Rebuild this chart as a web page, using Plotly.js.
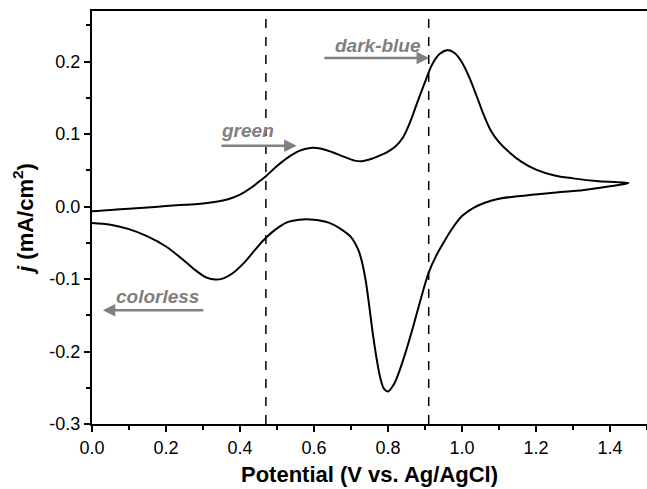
<!DOCTYPE html>
<html>
<head>
<meta charset="utf-8">
<script src="https://cdn.plot.ly/plotly-3.0.1.min.js"></script>
<style>html,body{margin:0;padding:0;background:#fff;}#chart{width:647px;height:489px;}</style>
</head>
<body>
<div id="chart"></div>
<script>
// Forward (anodic) sweep
const potentialFwd = [0.00,0.05,0.10,0.15,0.20,0.25,0.30,0.34,0.37,0.40,0.43,0.45,0.47,0.50,0.53,0.56,0.59,0.62,0.65,0.68,0.71,0.73,0.75,0.78,0.80,0.82,0.84,0.86,0.88,0.90,0.92,0.94,0.96,0.98,1.00,1.02,1.04,1.06,1.08,1.10,1.13,1.16,1.20,1.25,1.30,1.37,1.45];
const currentFwd   = [-0.0064,-0.0045,-0.0030,-0.0012,0.0008,0.0025,0.0042,0.0070,0.0105,0.0165,0.026,0.034,0.042,0.056,0.068,0.077,0.081,0.080,0.075,0.069,0.0635,0.0628,0.065,0.071,0.076,0.083,0.095,0.117,0.145,0.172,0.197,0.211,0.216,0.212,0.199,0.178,0.152,0.125,0.103,0.089,0.074,0.062,0.051,0.043,0.039,0.035,0.0327];
// Reverse (cathodic) sweep
const potentialRev = [1.45,1.40,1.33,1.24,1.15,1.10,1.06,1.03,1.00,0.97,0.95,0.93,0.91,0.89,0.87,0.85,0.83,0.815,0.80,0.79,0.78,0.77,0.76,0.75,0.74,0.73,0.72,0.70,0.67,0.64,0.60,0.56,0.53,0.50,0.47,0.44,0.41,0.38,0.355,0.333,0.31,0.28,0.25,0.20,0.15,0.10,0.05,0.00];
const currentRev   = [0.0327,0.028,0.023,0.0189,0.0142,0.011,0.005,-0.002,-0.013,-0.033,-0.050,-0.068,-0.091,-0.125,-0.162,-0.197,-0.228,-0.246,-0.255,-0.252,-0.238,-0.212,-0.179,-0.14,-0.103,-0.077,-0.060,-0.042,-0.030,-0.022,-0.018,-0.018,-0.021,-0.030,-0.043,-0.060,-0.078,-0.092,-0.099,-0.1007,-0.098,-0.088,-0.075,-0.055,-0.041,-0.031,-0.025,-0.0225];

const markerPotentials = [0.47, 0.91];

const xTickVals = [0.0,0.2,0.4,0.6,0.8,1.0,1.2,1.4];
const xTickText = ["0.0","0.2","0.4","0.6","0.8","1.0","1.2","1.4"];
const yTickVals = [-0.3,-0.2,-0.1,0.0,0.1,0.2];
const yTickText = ["-0.3","-0.2","-0.1","0.0","0.1","0.2"];

const colorLabels = ["green","dark-blue","colorless"];
const labelX = [0.421,0.772,0.176];
const labelY = [0.105,0.223,-0.124];
const arrowTail = [0.346,0.624,0.305];
const arrowHead = [0.553,0.911,0.029];
const arrowY = [0.084,0.205,-0.143];

const grey = "#808080";
const font = "Liberation Sans, Arial, sans-serif";

const traces = [{
  x: potentialFwd.concat(potentialRev.slice(1)),
  y: currentFwd.concat(currentRev.slice(1)),
  mode: "lines",
  type: "scatter",
  line: {color: "#000", width: 2, shape: "spline", smoothing: 1},
  hoverinfo: "none",
  showlegend: false
}];

const shapes = markerPotentials.map(v => ({
  type: "line", xref: "x", yref: "paper", x0: v, x1: v, y0: 0, y1: 1,
  line: {color: "#000", width: 1.5, dash: "dash"}
}));

const annotations = [];
for (let i = 0; i < colorLabels.length; i++) {
  annotations.push({
    x: arrowHead[i], y: arrowY[i], ax: arrowTail[i], ay: arrowY[i],
    xref: "x", yref: "y", axref: "x", ayref: "y",
    text: "", showarrow: true, arrowhead: 2, arrowsize: 1, arrowwidth: 2.5, arrowcolor: grey
  });
  annotations.push({
    x: labelX[i], y: labelY[i], xref: "x", yref: "y",
    text: "<b><i>" + colorLabels[i] + "</i></b>", showarrow: false,
    font: {family: font, size: 19, color: grey}
  });
}

const layout = {
  width: 647, height: 489,
  margin: {l: 92, r: 0, t: 11, b: 65},
  paper_bgcolor: "#fff", plot_bgcolor: "#fff",
  font: {family: font, color: "#000"},
  xaxis: {
    range: [0, 1.5], showgrid: false, zeroline: false,
    showline: true, linecolor: "#000", linewidth: 2, mirror: true,
    ticks: "outside", ticklen: 6, tickwidth: 2, tickcolor: "#000",
    tickvals: xTickVals, ticktext: xTickText,
    tickfont: {family: font, size: 18, color: "#000"},
    minor: {dtick: 0.1, ticks: "outside", ticklen: 4, tickwidth: 2, tickcolor: "#000", showgrid: false},
    title: {text: "<b>Potential (V vs. Ag/AgCl)</b>", font: {family: font, size: 22, color: "#000"}, standoff: 10}
  },
  yaxis: {
    range: [-0.3, 0.27], showgrid: false, zeroline: false,
    showline: true, linecolor: "#000", linewidth: 2, mirror: false,
    ticks: "outside", ticklen: 6, tickwidth: 2, tickcolor: "#000",
    tickvals: yTickVals, ticktext: yTickText,
    tickfont: {family: font, size: 18, color: "#000"},
    minor: {dtick: 0.05, ticks: "outside", ticklen: 4, tickwidth: 2, tickcolor: "#000", showgrid: false},
    title: {text: "<b><i>j</i> (mA/cm<sup>2</sup>)</b>", font: {family: font, size: 22, color: "#000"}, standoff: 10}
  },
  shapes: shapes,
  annotations: annotations
};

Plotly.newPlot("chart", traces, layout, {staticPlot: true});
</script>
</body>
</html>
